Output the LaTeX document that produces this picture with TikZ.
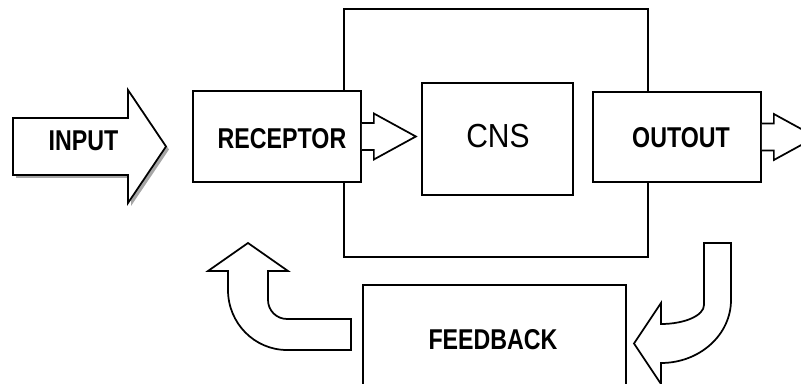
\documentclass[tikz,border=0pt]{standalone}
\usepackage{fontspec}
\setmainfont{Liberation Sans}
\newfontfamily\narrowfont{Liberation Sans}[FakeStretch=0.81]
\newfontfamily\cnsfont{Liberation Sans}[FakeStretch=0.9]
\usetikzlibrary{positioning}
\usetikzlibrary{shadows}
\tikzset{
    blk/.style={draw, fill=white, line width=1.3pt, inner sep=0pt},
    lbl/.style={inner sep=0pt, font=\narrowfont\bfseries\fontsize{21.5}{23}\selectfont},
    big/.style={inner sep=0pt, font=\cnsfont\fontsize{25}{27}\selectfont}
}
\tikzset{
    notchArrow/.pic={
		\filldraw[fill=white, line width=1.3pt, line join=miter] (0,-13.5) -- (12,-13.5) -- (12,-23) -- (54,0) -- (12,23) -- (12,13.5) -- (0,13.5);
	}
}
\begin{document}
\begin{tikzpicture}[x=0.75pt, y=-0.75pt]
			\useasboundingbox (0,0) rectangle (801,384);
			\clip (0,0) rectangle (801,384);
			\node[blk, minimum width=228pt, minimum height=186pt] (brain) at (496,133) {};
			\node[blk, minimum width=126pt, minimum height=68.25pt] (receptor) at (277,136.5) {};
			\pic at (receptor.east) {notchArrow};
			\node[blk, minimum width=113.25pt, minimum height=84pt] (cns) at (497.5,139) {};
			\node[blk, minimum width=126pt, minimum height=67.5pt] (outout) at (677,137) {};
			\pic at (outout.east) {notchArrow};
			\node[blk, minimum width=197.25pt, minimum height=80.25pt] (feedback) at (494.5,338.5) {};
			\filldraw[fill=white, line width=1.3pt, line join=miter] (248,243) -- (288,271) -- (268,271) -- (268,300) .. controls (268,310.5) and (276.5,319) .. (287,319) -- (351,319) -- (351,350) -- (287,350) .. controls (254.4,350) and (228,323.1) .. (228,290) -- (228,271) -- (208,271) -- cycle;
			\filldraw[fill=white, line width=1.3pt, line join=miter] (704,243) -- (731,243) -- (731,300) .. controls (731,334.8) and (699.7,363) .. (661,363) -- (661,384) -- (634,343.5) -- (661,303) -- (661,324) .. controls (684.7,324) and (704,315.5) .. (704,305) -- cycle;
			\filldraw[fill=white, line width=1.3pt, line join=miter, drop shadow={shadow xshift=2.25pt, shadow yshift=-2.25pt, fill=gray!70, opacity=1}] (13,118) -- (128,118) -- (128,90) -- (166,146.5) -- (128,203) -- (128,175) -- (13,175) -- cycle;
			\node[lbl] (input) at (83.5,140.5) {INPUT};
			\node[lbl] (receptorLbl) at (282,138.5) {RECEPTOR};
			\node[big] (cnsLbl) at (498,136.5) {CNS};
			\node[lbl] (outoutLbl) at (681,138) {OUTOUT};
			\node[lbl] (feedbackLbl) at (493,339.5) {FEEDBACK};
	\end{tikzpicture}
\end{document}
